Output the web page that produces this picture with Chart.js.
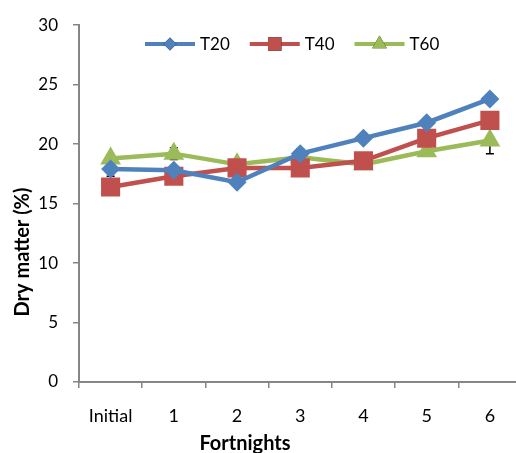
<!DOCTYPE html>
<html>
<head>
<meta charset="utf-8">
<script src="https://cdn.jsdelivr.net/npm/chart.js@4/dist/chart.umd.min.js"></script>
<style>
  html, body { margin: 0; padding: 0; background: #fff; overflow: hidden; }
  #wrap { width: 516px; height: 453px; overflow: hidden; }
</style>
</head>
<body>
<div id="wrap"><canvas id="dmChart" width="535" height="453"></canvas></div>
<script>
const fortnights = ['Initial', '1', '2', '3', '4', '5', '6'];
const t20 = [17.9, 17.8, 16.8, 19.2, 20.5, 21.8, 23.8];
const t40 = [16.4, 17.3, 18.0, 18.0, 18.6, 20.5, 22.0];
const t60 = [18.8, 19.2, 18.3, 18.9, 18.3, 19.4, 20.3];
// error bars only visible at a few points
const t20Err = [0.6, 0, 0, 0.4, 0, 0, 0];
const t40Err = [0, 0, 0, 0, 0, 0, 0];
const t60Err = [0.3, 0.5, 0, 0, 0, 0, 1.1];
const yTicks = [0, 5, 10, 15, 20, 25, 30];

const FONT = 'Lato, "Open Sans", sans-serif';
const AXIS_GREY = '#868686';

// error bars drawn under the markers
const errorBars = {
  id: 'errorBars',
  beforeDatasetsDraw(chart) {
    const ctx = chart.ctx;
    const x = chart.scales.x, y = chart.scales.y;
    ctx.save();
    ctx.strokeStyle = '#000';
    ctx.lineWidth = 1.5;
    chart.data.datasets.forEach(ds => {
      ds.errors.forEach((e, i) => {
        if (!e) return;
        const px = x.getPixelForValue(i);
        const top = y.getPixelForValue(ds.data[i] + e);
        const bot = y.getPixelForValue(ds.data[i] - e);
        ctx.beginPath();
        ctx.moveTo(px, top); ctx.lineTo(px, bot);
        ctx.moveTo(px - 4, top); ctx.lineTo(px + 4, top);
        ctx.moveTo(px - 4, bot); ctx.lineTo(px + 4, bot);
        ctx.stroke();
      });
    });
    ctx.restore();
  }
};

// Excel-style legend (line + marker) inside the plot, plus axis titles
const overlay = {
  id: 'overlay',
  afterDraw(chart) {
    const ctx = chart.ctx;
    ctx.save();
    ctx.font = '17px ' + FONT;
    ctx.textBaseline = 'middle';
    let lx = 145;
    const ly = 44;
    chart.data.datasets.forEach(ds => {
      ctx.strokeStyle = ds.borderColor;
      ctx.lineWidth = 4;
      ctx.beginPath();
      ctx.moveTo(lx, ly); ctx.lineTo(lx + 50, ly);
      ctx.stroke();
      Chart.helpers.drawPoint(ctx, {
        pointStyle: ds.pointStyle,
        radius: ds.legendRadius,
        borderWidth: 0
      }, lx + 25, ly);
      ctx.fillStyle = ds.borderColor;
      ctx.fill();
      ctx.fillStyle = '#000';
      ctx.textAlign = 'left';
      ctx.fillText(ds.label, lx + 55, ly + 1);
      lx += 55 + ctx.measureText(ds.label).width + 20;
    });

    ctx.font = 'bold 20px ' + FONT;
    ctx.textAlign = 'center';
    ctx.fillText('Fortnights', 245, 444);
    ctx.translate(23, 252);
    ctx.rotate(-Math.PI / 2);
    ctx.fillText('Dry matter (%)', 0, 0);
    ctx.restore();
  }
};

function makeSet(label, data, errors, color, style, radius, legendRadius) {
  return {
    label: label,
    data: data,
    errors: errors,
    borderColor: color,
    backgroundColor: color,
    borderWidth: 4.5,
    pointStyle: style,
    pointRadius: radius,
    pointHoverRadius: radius,
    pointBorderWidth: 0,
    legendRadius: legendRadius,
    tension: 0
  };
}

const ctx = document.getElementById('dmChart').getContext('2d');
new Chart(ctx, {
  type: 'line',
  data: {
    labels: fortnights,
    datasets: [
      makeSet('T20', t20, t20Err, '#4F81BD', 'rectRot', 9.5, 6.5),
      makeSet('T40', t40, t40Err, '#C0504D', 'rect', 13.5, 9.5),
      makeSet('T60', t60, t60Err, '#9BBB59', 'triangle', 12, 8.5)
    ]
  },
  options: {
    responsive: false,
    animation: false,
    devicePixelRatio: 1,
    layout: { padding: { top: 24, left: 0, right: 0, bottom: 0 } },
    plugins: {
      legend: { display: false },
      tooltip: { enabled: false }
    },
    scales: {
      x: {
        offset: true,
        grid: {
          offset: true,
          drawOnChartArea: false,
          color: AXIS_GREY,
          tickLength: 6,
          lineWidth: 1.5
        },
        border: { color: AXIS_GREY, width: 2 },
        ticks: { color: '#000', font: { family: FONT, size: 18 }, padding: 17, maxRotation: 0 },
        afterFit(scale) { scale.height = 71; }
      },
      y: {
        min: 0,
        max: 30,
        afterBuildTicks(scale) { scale.ticks = yTicks.map(v => ({ value: v })); },
        grid: {
          drawOnChartArea: false,
          color: AXIS_GREY,
          tickLength: 6,
          lineWidth: 1.5
        },
        border: { color: AXIS_GREY, width: 2 },
        ticks: { color: '#000', font: { family: FONT, size: 17 }, padding: 15 },
        afterFit(scale) { scale.width = 79; }
      }
    }
  },
  plugins: [errorBars, overlay]
});
</script>
</body>
</html>
